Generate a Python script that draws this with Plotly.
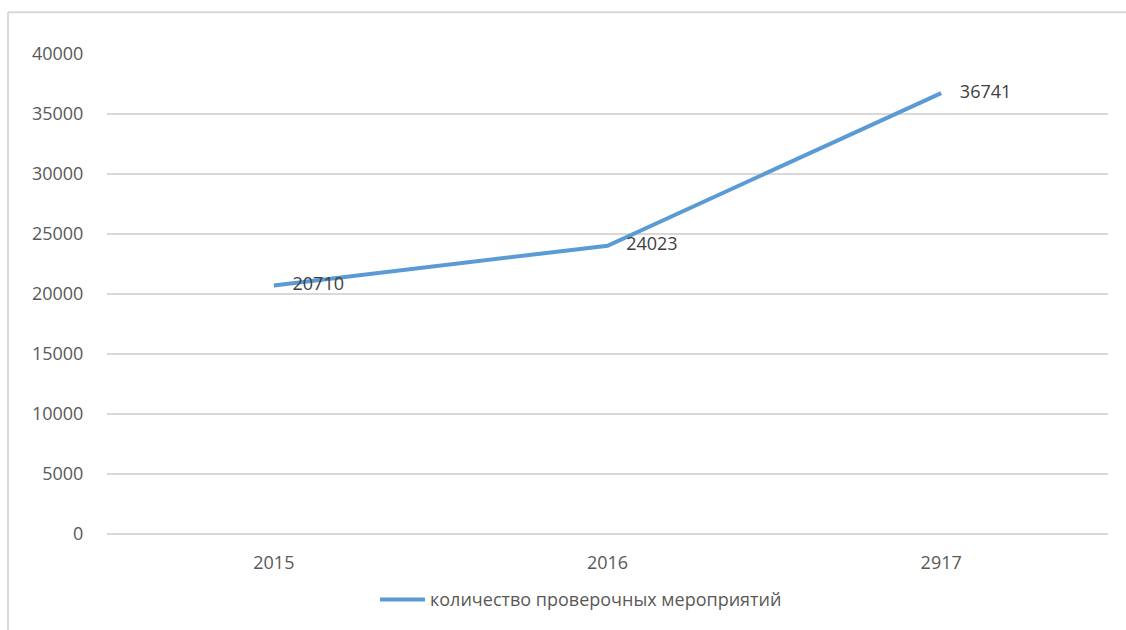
import plotly.graph_objects as go

categories = ["2015", "2016", "2917"]
values = [20710, 24023, 36741]
series_name = "количество проверочных мероприятий"
y_ticks = [0, 5000, 10000, 15000, 20000, 25000, 30000, 35000, 40000]
y_tick_labels = [str(v) for v in y_ticks]

FONT = "Open Sans, Liberation Sans, sans-serif"

fig = go.Figure()
fig.add_trace(go.Scatter(
    x=categories, y=values, mode="lines+text", name=series_name,
    text=["    " + str(v) for v in values], textposition="middle right",
    textfont=dict(family=FONT, size=18, color="#404040"),
    line=dict(color="#5B9BD5", width=4),
    showlegend=True,
))

fig.update_layout(
    width=1126, height=630,
    margin=dict(l=107, r=18, t=54, b=93),
    paper_bgcolor="white", plot_bgcolor="white",
    font=dict(family=FONT, size=18, color="#595959"),
    xaxis=dict(type="category", range=[-0.5, 2.5], showgrid=False, showline=False,
               zeroline=False, ticks="outside", ticklen=12, tickcolor="rgba(0,0,0,0)",
               tickfont=dict(size=18, color="#595959")),
    yaxis=dict(range=[0, 40000], tickvals=y_ticks, ticktext=y_tick_labels,
               showgrid=True, gridcolor="#d9d9d9",
               gridwidth=1.5, zeroline=True, zerolinecolor="#d9d9d9", zerolinewidth=1.5,
               showline=False, ticks="outside", ticklen=19, tickcolor="rgba(0,0,0,0)",
               tickfont=dict(size=18, color="#595959")),
    legend=dict(orientation="h", x=0.4735, xanchor="center", y=-0.137, yanchor="middle",
                font=dict(size=18, color="#595959"), itemwidth=45),
    shapes=[
        dict(type="line", xref="paper", yref="paper", x0=-0.0989, x1=1.02, y0=1.087, y1=1.087,
             line=dict(color="#d9d9d9", width=2)),
        dict(type="line", xref="paper", yref="paper", x0=-0.0989, x1=-0.0989, y0=1.087, y1=-0.2,
             line=dict(color="#d9d9d9", width=2)),
    ],
)

fig.write_html("out.html")
